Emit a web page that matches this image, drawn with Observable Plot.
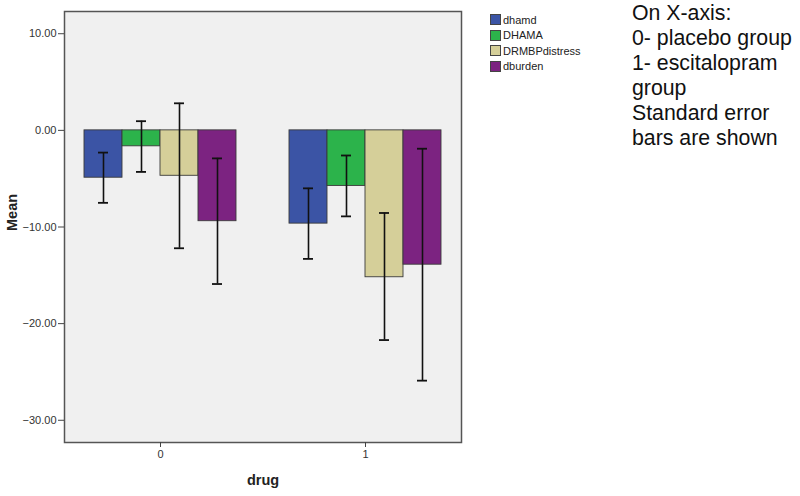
<!DOCTYPE html>
<html>
<head>
<meta charset="utf-8">
<script src="https://cdn.jsdelivr.net/npm/d3@7"></script>
<script src="https://cdn.jsdelivr.net/npm/@observablehq/plot@0.6"></script>
<style>
  html, body { margin: 0; padding: 0; background: #ffffff; }
  #wrap { position: relative; width: 800px; height: 496px; font-family: "Liberation Sans", Arial, sans-serif; }
  #chart { position: absolute; left: 0; top: 0; }
  #legend { position: absolute; left: 490px; top: 12px; font-size: 11px; color: #222; }
  .lg-row { display: flex; align-items: center; height: 15.5px; }
  .lg-sw { width: 9px; height: 9px; border: 1px solid #444; margin-right: 2px; box-sizing: content-box; }
  #note { position: absolute; left: 632px; top: 1px; font-size: 21.3px; line-height: 25px; color: #111; white-space: nowrap; }
</style>
</head>
<body>
<div id="wrap">
  <div id="chart"></div>
  <div id="legend"></div>
  <div id="note"></div>
</div>
<script>
// ---- data ----
const drugs = ["0", "1"];
const series = ["dhamd", "DHAMA", "DRMBPdistress", "dburden"];
const colors = ["#3b54a5", "#2cb34b", "#d5cf99", "#7c2381"];
// mean change per series, by drug group
const means0 = [-4.9, -1.65, -4.7, -9.4];
const means1 = [-9.65, -5.75, -15.2, -13.9];
// standard error bar ends
const upper0 = [-2.3, 0.95, 2.8, -2.9];
const lower0 = [-7.5, -4.3, -12.2, -15.9];
const upper1 = [-6.0, -2.6, -8.55, -1.9];
const lower1 = [-13.3, -8.9, -21.7, -25.9];
const yTicks = [-30, -20, -10, 0, 10];
const noteLines = ["On X-axis:", "0- placebo group", "1- escitalopram", "group", "Standard error", "bars are shown"];

const meansBy = [means0, means1];
const upperBy = [upper0, upper1];
const lowerBy = [lower0, lower1];
const rows = [];
drugs.forEach((d, i) => series.forEach((s, j) => rows.push({
  drug: d, series: s, mean: meansBy[i][j], hi: upperBy[i][j], lo: lowerBy[i][j]
})));

const font = '"Liberation Sans", Arial, sans-serif';

const chart = Plot.plot({
  width: 800,
  height: 496,
  marginLeft: 63,
  marginRight: 338,
  marginTop: 11,
  marginBottom: 54,
  style: { fontFamily: font, fontSize: "11px", color: "#333", background: "transparent" },
  fx: { domain: drugs, paddingInner: 0.063, paddingOuter: 0, label: null, axis: null },
  x: { domain: series, axis: null, paddingInner: 0, paddingOuter: 0.523 },
  y: { domain: [-32.3, 12.3] },
  color: { domain: series, range: colors },
  marks: [
    Plot.frame({ facet: "super", fill: "#f0f0f0", stroke: null }),
    Plot.barY(rows, { fx: "drug", x: "series", y: "mean", fill: "series", stroke: "#3a3a3a", strokeWidth: 0.9 }),
    Plot.ruleX(rows, { fx: "drug", x: "series", y1: "lo", y2: "hi", stroke: "#111", strokeWidth: 1.6 }),
    Plot.tickY(rows, { fx: "drug", x: "series", y: "hi", insetLeft: 14, insetRight: 14, stroke: "#111", strokeWidth: 1.8 }),
    Plot.tickY(rows, { fx: "drug", x: "series", y: "lo", insetLeft: 14, insetRight: 14, stroke: "#111", strokeWidth: 1.8 }),
    Plot.frame({ facet: "super", stroke: "#555", strokeWidth: 1.5 }),
    Plot.axisY({ ticks: yTicks, tickFormat: d3.format(".2f"), tickSize: 6, tickPadding: 2, label: null, stroke: "#444", fill: "#333" }),
    Plot.axisFx({ anchor: "bottom", tickSize: 5, tickPadding: 3, label: null, stroke: "#444", fill: "#333" }),
    Plot.text(["Mean"], { facet: "super", frameAnchor: "left", rotate: -90, dx: -52, dy: 4, fontWeight: "bold", fontSize: 14.5, fill: "#222" }),
    Plot.text(["drug"], { facet: "super", frameAnchor: "bottom", dy: 42, fontWeight: "bold", fontSize: 14.5, fill: "#222" })
  ]
});
document.getElementById("chart").appendChild(chart);

// legend
const legend = document.getElementById("legend");
series.forEach((s, j) => {
  const row = document.createElement("div");
  row.className = "lg-row";
  const sw = document.createElement("span");
  sw.className = "lg-sw";
  sw.style.background = colors[j];
  const tx = document.createElement("span");
  tx.textContent = s;
  row.appendChild(sw);
  row.appendChild(tx);
  legend.appendChild(row);
});

// note
const note = document.getElementById("note");
noteLines.forEach(t => {
  const d = document.createElement("div");
  d.textContent = t;
  note.appendChild(d);
});
</script>
</body>
</html>
